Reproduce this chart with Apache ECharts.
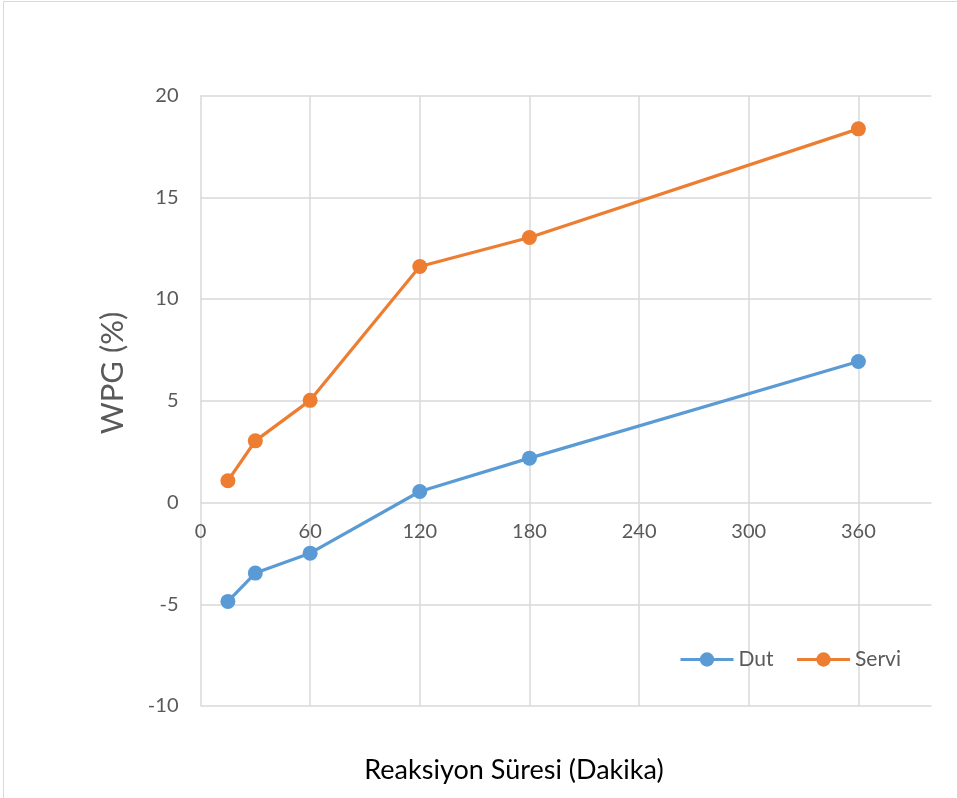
<!DOCTYPE html>
<html>
<head>
<meta charset="utf-8">
<script src="https://cdn.jsdelivr.net/npm/echarts@6/dist/echarts.min.js"></script>
<style>html,body{margin:0;padding:0;background:#fff}#c{width:957px;height:798px}</style>
</head>
<body>
<div id="c"></div>
<script>
const xValues = [15, 30, 60, 120, 180, 360];
const dutValues = [-4.86, -3.47, -2.49, 0.54, 2.18, 6.93];
const serviValues = [1.07, 3.03, 5.02, 11.6, 13.02, 18.36];
const seriesNames = ['Dut', 'Servi'];
const xTitle = 'Reaksiyon Süresi (Dakika)';
const yTitle = 'WPG (%)';

const font = 'Lato, "Noto Sans", sans-serif';
const grid = '#d9d9d9';
const gridTop = 95.5, gridBottom = 92, chartH = 798;
const plotH = chartH - gridTop - gridBottom;
const yMin = -10, yMax = 20;
const chart = echarts.init(document.getElementById('c'), null, {renderer: 'canvas'});
const pair = (xs, ys) => xs.map((x, i) => [x, ys[i]]);
chart.setOption({
  animation: false,
  backgroundColor: '#fff',
  grid: {left: 200.5, right: 25.5, top: gridTop, bottom: gridBottom, containLabel: false},
  xAxis: {
    type: 'value', min: 0, max: 400, interval: 60,
    offset: -plotH * (0 - yMin) / (yMax - yMin),
    axisLine: {show: false, onZero: false},
    axisTick: {show: false},
    axisLabel: {color: '#595959', fontSize: 20, fontFamily: font, margin: 19, showMaxLabel: false,
      formatter: v => (v > 360 ? '' : String(v))},
    splitLine: {show: true, lineStyle: {color: [grid, grid, grid, grid, grid, grid, grid, 'rgba(0,0,0,0)'], width: 1.5}}
  },
  yAxis: {
    type: 'value', min: yMin, max: yMax, interval: 5,
    axisLine: {show: false},
    axisTick: {show: false},
    axisLabel: {color: '#595959', fontSize: 20, fontFamily: font, margin: 22},
    splitLine: {show: true, lineStyle: {color: grid, width: 1.5}}
  },
  legend: {
    show: true,
    left: 679, top: 649, padding: 0,
    itemWidth: 53, itemHeight: 18, itemGap: 22,
    lineStyle: {width: 3},
    textStyle: {color: '#595959', fontSize: 21, fontFamily: font},
    data: seriesNames
  },
  series: [
    {name: seriesNames[0], type: 'line', data: pair(xValues, dutValues), symbol: 'circle', symbolSize: 15,
      itemStyle: {color: '#5B9BD5'}, lineStyle: {color: '#5B9BD5', width: 3.2}},
    {name: seriesNames[1], type: 'line', data: pair(xValues, serviValues), symbol: 'circle', symbolSize: 15,
      itemStyle: {color: '#ED7D31'}, lineStyle: {color: '#ED7D31', width: 3.2}}
  ],
  graphic: [
    {type: 'rect', shape: {x: 3.5, y: 1.5, width: 1200, height: 1200}, style: {fill: 'none', stroke: grid, lineWidth: 1}, silent: true},
    {type: 'text', x: 514, y: 770, style: {text: xTitle, fontSize: 27, fontFamily: font, fill: '#000', align: 'center', verticalAlign: 'middle'}},
    {type: 'text', x: 113, y: 373, rotation: Math.PI / 2, style: {text: yTitle, fontSize: 31, fontFamily: font, fill: '#595959', align: 'center', verticalAlign: 'middle'}}
  ]
});
</script>
</body>
</html>
